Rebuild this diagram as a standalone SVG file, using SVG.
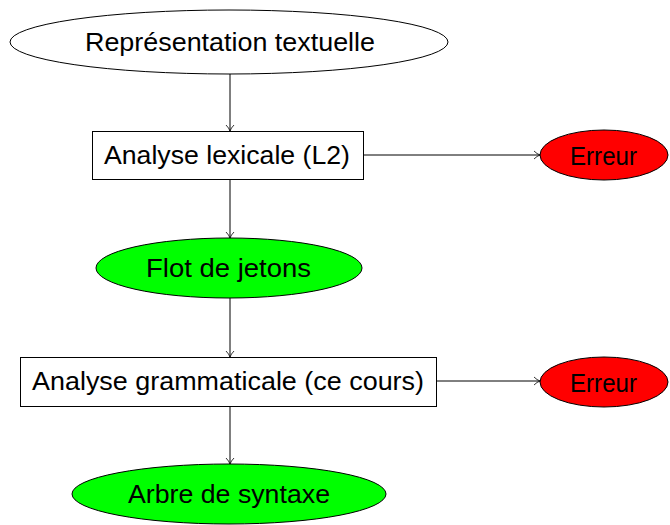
<svg xmlns="http://www.w3.org/2000/svg" width="670" height="525" viewBox="0 0 670 525">
<defs>
<marker id="arr" markerWidth="8" markerHeight="10" refX="7" refY="5" orient="auto" markerUnits="userSpaceOnUse">
<path d="M1,1 Q4,4 7,5 Q4,6 1,9" fill="none" stroke="#000" stroke-width="0.8"/>
</marker>
</defs>
<style>
text{font-family:"Liberation Sans",Arial,sans-serif;font-size:26px;fill:#000;text-anchor:middle;dominant-baseline:central}
.s{stroke:#000;stroke-width:1}
.w{fill:#fff}
.g{fill:#00ff00}
.r{fill:#ff0000}
.c{fill:none;stroke:#000;stroke-width:1;marker-end:url(#arr)}
</style>
<rect width="670" height="525" fill="#fff"/>
<g id="connectors">
<line class="c" x1="230" y1="74" x2="230" y2="131"/>
<line class="c" x1="230" y1="179" x2="230" y2="238"/>
<line class="c" x1="230" y1="298" x2="230" y2="357"/>
<line class="c" x1="230" y1="406" x2="230" y2="464"/>
<line class="c" x1="363" y1="155" x2="540" y2="155"/>
<line class="c" x1="436" y1="381" x2="540" y2="381"/>
</g>
<g id="n1"><ellipse class="s w" cx="229" cy="42" rx="219" ry="32"/><text x="230" y="42" textLength="290" lengthAdjust="spacingAndGlyphs">Représentation textuelle</text></g>
<g id="n2"><rect class="s w" x="92.5" y="131.5" width="271" height="48"/><text x="227" y="155" textLength="246" lengthAdjust="spacingAndGlyphs">Analyse lexicale (L2)</text></g>
<g id="n3"><ellipse class="s r" cx="604" cy="155" rx="64" ry="25"/><text x="603.5" y="156" textLength="67" lengthAdjust="spacingAndGlyphs">Erreur</text></g>
<g id="n4"><ellipse class="s g" cx="229" cy="268" rx="133" ry="30"/><text x="228.5" y="268" textLength="165" lengthAdjust="spacingAndGlyphs">Flot de jetons</text></g>
<g id="n5"><rect class="s w" x="20.5" y="357.5" width="416" height="49"/><text x="228" y="381" textLength="392" lengthAdjust="spacingAndGlyphs">Analyse grammaticale (ce cours)</text></g>
<g id="n6"><ellipse class="s r" cx="604" cy="382" rx="64" ry="25"/><text x="603.5" y="383" textLength="67" lengthAdjust="spacingAndGlyphs">Erreur</text></g>
<g id="n7"><ellipse class="s g" cx="229" cy="494" rx="157" ry="30"/><text x="229" y="494" textLength="202" lengthAdjust="spacingAndGlyphs">Arbre de syntaxe</text></g>
</svg>
